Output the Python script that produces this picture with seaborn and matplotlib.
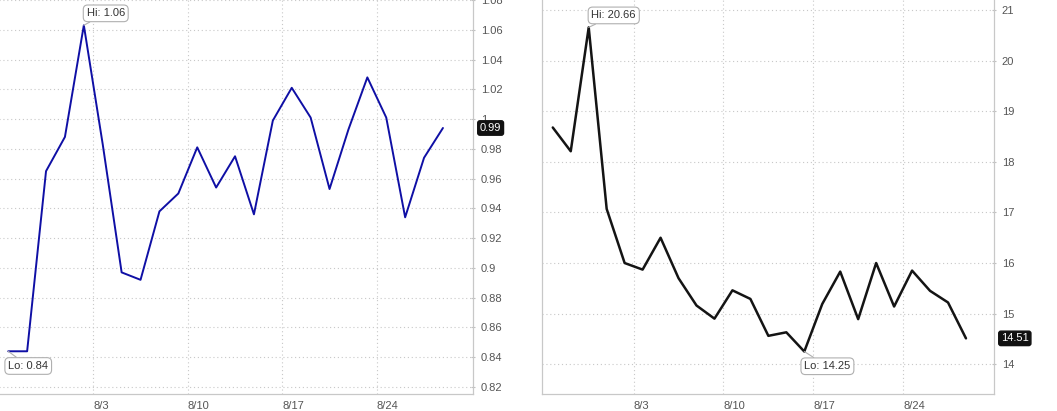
import pandas as pd
import matplotlib.pyplot as plt
import seaborn as sns
from matplotlib.ticker import FuncFormatter

# trading days shown on both panels
days = pd.bdate_range('2015-07-27', '2015-08-27')

# left panel (blue) and right panel (black) closes
left_vals = [0.844, 0.844, 0.965, 0.988, 1.063, 0.983, 0.897, 0.892,
             0.938, 0.950, 0.981, 0.954, 0.975, 0.936, 0.999, 1.021,
             1.001, 0.953, 0.993, 1.028, 1.001, 0.934, 0.974, 0.994]
right_vals = [18.68, 18.21, 20.66, 17.07, 16.00, 15.87, 16.50, 15.70,
              15.16, 14.90, 15.46, 15.29, 14.56, 14.63, 14.25, 15.19,
              15.83, 14.89, 16.00, 15.14, 15.85, 15.45, 15.22, 14.51]

left_ticks = [0.82, 0.84, 0.86, 0.88, 0.9, 0.92, 0.94, 0.96, 0.98, 1.0,
              1.02, 1.04, 1.06, 1.08]
right_ticks = [14, 15, 16, 17, 18, 19, 20, 21]

sns.set_style('white')
plt.rcParams['font.family'] = ['Liberation Sans', 'DejaVu Sans']

W, H = 1057, 411
fig = plt.figure(figsize=(W / 100, H / 100), dpi=100)


def px_axes(x0, x1, y0, y1):
    # pixel box (top-left origin) -> figure fraction axes
    return fig.add_axes([x0 / W, 1 - y1 / H, (x1 - x0) / W, (y1 - y0) / H])


ax1 = px_axes(-5, 473, -10, 394)
ax2 = px_axes(542, 994, -5, 394)

idx = list(range(len(days)))
# week starts (Mondays after the first) get a grid line just before them
week_pos = [i - 0.5 for i, d in enumerate(days) if d.weekday() == 0 and i > 0]
week_lab = [f'{days[i].month}/{days[i].day}' for i, d in enumerate(days)
            if d.weekday() == 0 and i > 0]

grid_kw = dict(color='#c8c8c8', linestyle=(0, (1, 2.5)), linewidth=0.8)


def style(ax, yticks, ylim, xlim):
    ax.set_xlim(*xlim)
    ax.set_ylim(*ylim)
    ax.yaxis.tick_right()
    ax.set_yticks(yticks)
    ax.yaxis.set_major_formatter(FuncFormatter(lambda v, p: f'{v:g}'))
    ax.set_xticks(week_pos)
    ax.set_xticklabels(week_lab, ha='left')
    ax.tick_params(axis='y', length=3, pad=4, labelsize=8, colors='#c0c0c0',
                   labelcolor='#555555', direction='inout')
    ax.tick_params(axis='x', length=3, pad=2, labelsize=8, colors='#c0c0c0',
                   labelcolor='#555555')
    ax.grid(True, **grid_kw)
    ax.set_axisbelow(True)
    for s in ['top']:
        ax.spines[s].set_visible(False)
    for s in ['left', 'right', 'bottom']:
        ax.spines[s].set_color('#c8c8c8')
        ax.spines[s].set_linewidth(0.9)
    ax.set_xlabel('')
    ax.set_ylabel('')


sns.lineplot(x=idx, y=left_vals, ax=ax1, color='#0f0fa5', linewidth=1.4)
style(ax1, left_ticks, (0.8153, 1.0867), (-0.7, 24.59))

sns.lineplot(x=idx, y=right_vals, ax=ax2, color='#141414', linewidth=1.8)
style(ax2, right_ticks, (13.41, 21.3), (-0.6, 24.56))

box_kw = dict(boxstyle='round,pad=0.3,rounding_size=0.4', fc='white',
              ec='#b0b0b0', lw=0.8)
arrow_kw = dict(arrowstyle='-', color='#b0b0b0', lw=0.8, shrinkA=0, shrinkB=0)


def hilo(ax, vals, fmt):
    hi = max(range(len(vals)), key=lambda i: vals[i])
    lo = min(range(len(vals)), key=lambda i: vals[i])
    ax.annotate(f'Hi: {vals[hi]:{fmt}}', xy=(hi, vals[hi]), xytext=(2, 5),
                textcoords='offset points', ha='left', va='bottom',
                fontsize=8, color='#333333', bbox=box_kw, arrowprops=arrow_kw)
    ax.annotate(f'Lo: {vals[lo]:{fmt}}', xy=(lo, vals[lo]), xytext=(0, -7),
                textcoords='offset points', ha='left', va='top',
                fontsize=8, color='#333333', bbox=box_kw, arrowprops=arrow_kw)
    ax.annotate(f'{vals[-1]:{fmt}}', xy=(1, vals[-1]),
                xycoords=('axes fraction', 'data'), xytext=(5, 0),
                textcoords='offset points', ha='left', va='center',
                fontsize=8, color='white',
                bbox=dict(boxstyle='round,pad=0.2,rounding_size=0.2',
                          fc='#111111', ec='#111111'),
                annotation_clip=False)


hilo(ax1, left_vals, '.2f')
hilo(ax2, right_vals, '.2f')

fig.savefig('out.png', dpi=100)
